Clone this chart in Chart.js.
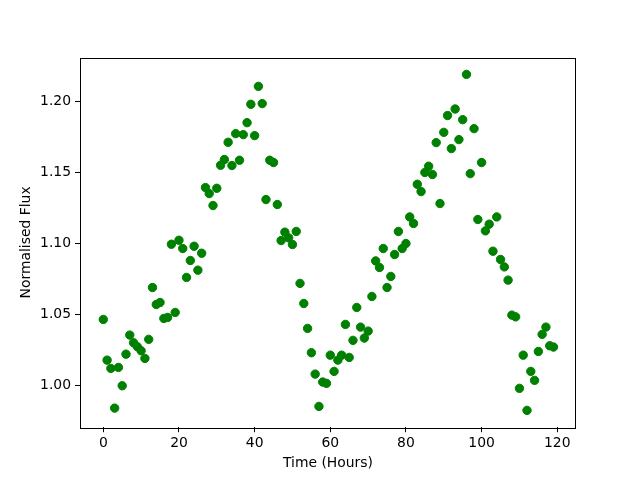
<!DOCTYPE html>
<html>
<head>
<meta charset="utf-8">
<script src="https://cdn.jsdelivr.net/npm/chart.js@4/dist/chart.umd.min.js"></script>
<style>
html,body{margin:0;padding:0;background:#fff;}
#wrap{width:640px;height:480px;}
</style>
</head>
<body>
<div id="wrap"><canvas id="c" width="640" height="480"></canvas></div>
<script>
const hours = [0,1,2,3,4,5,6,7,8,9,10,11,12,13,14,15,16,17,18,19,20,21,22,23,24,25,26,27,28,29,
30,31,32,33,34,35,36,37,38,39,40,41,42,43,44,45,46,47,48,49,50,51,52,53,54,55,56,57,58,59,
60,61,62,63,64,65,66,67,68,69,70,71,72,73,74,75,76,77,78,79,80,81,82,83,84,85,86,87,88,89,
90,91,92,93,94,95,96,97,98,99,100,101,102,103,104,105,106,107,108,109,110,111,112,113,114,115,116,117,118,119];

const flux = [1.0466,1.0180,1.0122,0.9843,1.0129,1.0000,1.0222,1.0356,1.0302,1.0274,
1.0246,1.0192,1.0326,1.0690,1.0571,1.0585,1.0473,1.0480,1.0994,1.0515,
1.1022,1.0964,1.0761,1.0880,1.0980,1.0812,1.0931,1.1392,1.1350,1.1266,
1.1387,1.1549,1.1589,1.1710,1.1547,1.1771,1.1584,1.1764,1.1848,1.1977,
1.1757,1.2103,1.1982,1.1308,1.1584,1.1568,1.1273,1.1020,1.1079,1.1039,
1.0992,1.1084,1.0719,1.0578,1.0403,1.0232,1.0082,0.9855,1.0026,1.0017,
1.0215,1.0101,1.0180,1.0215,1.0431,1.0199,1.0319,1.0550,1.0412,1.0335,
1.0384,1.0627,1.0877,1.0831,1.0964,1.0690,1.0768,1.0922,1.1084,1.0964,
1.0999,1.1186,1.1140,1.1415,1.1364,1.1498,1.1542,1.1484,1.1708,1.1280,
1.1780,1.1898,1.1666,1.1944,1.1729,1.1869,1.2187,1.1490,1.1806,1.1168,
1.1568,1.1088,1.1135,1.0945,1.1186,1.0887,1.0835,1.0742,1.0496,1.0484,
0.9982,1.0215,0.9827,1.0101,1.0038,1.0241,1.0361,1.0412,1.0281,1.0272];

const xTicks = [0,20,40,60,80,100,120];
const yTicks = [1.00,1.05,1.10,1.15,1.20];

const points = hours.map((h,i)=>({x:h,y:flux[i]}));

Chart.defaults.font.family = "'DejaVu Sans', sans-serif";
Chart.defaults.font.size = 13.9;
Chart.defaults.color = '#000';

const framePlugin = {
  id:'frame',
  afterDatasetsDraw(chart){
    const {ctx, chartArea:a} = chart;
    ctx.save();
    ctx.strokeStyle='#000';
    ctx.lineWidth=1;
    ctx.strokeRect(Math.round(a.left)+0.5, Math.round(a.top)+0.5, Math.round(a.right-a.left)-1, Math.round(a.bottom-a.top));
    ctx.restore();
  }
};

new Chart(document.getElementById('c'), {
  type:'scatter',
  data:{datasets:[{
    data:points,
    backgroundColor:'#008000',
    borderColor:'#008000',
    borderWidth:1,
    pointRadius:4.2,
    pointHoverRadius:4.2
  }]},
  options:{
    responsive:false,
    animation:false,
    events:[],
    layout:{autoPadding:false, padding:{top:57.6,right:64,left:0,bottom:0}},
    plugins:{legend:{display:false},tooltip:{enabled:false}},
    scales:{
      x:{
        type:'linear',
        min:-6.16, max:124.95,
        afterBuildTicks(s){ s.ticks = xTicks.map(v=>({value:v})); },
        afterFit(s){ s.height = 52.8; },
        grid:{display:true, drawOnChartArea:false, drawTicks:true, tickLength:5, color:'#000', lineWidth:1},
        border:{display:false},
        ticks:{padding:3, maxRotation:0, autoSkip:false, callback:v=>String(v)},
        title:{display:true, text:'Time (Hours)', padding:{top:0,bottom:8.7}}
      },
      y:{
        type:'linear',
        min:0.9709, max:1.2305,
        afterBuildTicks(s){ s.ticks = yTicks.map(v=>({value:v})); },
        afterFit(s){ s.width = 80; },
        grid:{display:true, drawOnChartArea:false, drawTicks:true, tickLength:5, color:'#000', lineWidth:1},
        border:{display:false},
        ticks:{padding:4, autoSkip:false, callback:v=>Number(v).toFixed(2)},
        title:{display:true, text:'Normalised Flux', padding:{top:18,bottom:0}}
      }
    }
  },
  plugins:[framePlugin]
});
</script>
</body>
</html>
